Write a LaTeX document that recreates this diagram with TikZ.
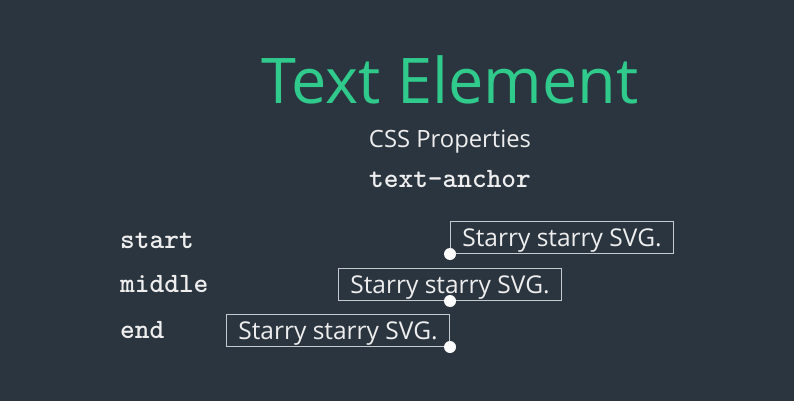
\documentclass[tikz,border=0pt]{standalone}
\usepackage{fontspec}
\setmainfont{Open Sans}
\definecolor{bgc}{HTML}{2B353F}
\definecolor{titlec}{HTML}{2FCA8C}
\definecolor{txtc}{HTML}{EEEEEE}
\definecolor{boxc}{HTML}{C5CACE}
\begin{document}
\begin{tikzpicture}[x=1pt,y=-1pt,
  codefnt/.style={font=\ttfamily\bfseries\fontsize{28}{32}\selectfont},
  codelbl/.style={anchor=base west,inner sep=0pt,text=txtc,codefnt},
  sbox/.style={draw=boxc,line width=1pt,text=txtc,inner sep=0pt,minimum width=223pt,
    text height=25pt,text depth=7pt,font=\fontsize{24.5}{28}\selectfont,anchor=south west},
  dotn/.style={circle,fill=white,draw=none,inner sep=0pt,minimum size=12pt}]
\fill[bgc] (0,0) rectangle (794,401);
\useasboundingbox (0,0) rectangle (794,401);
\node[anchor=base,inner sep=0pt,text=titlec,font=\fontsize{63}{70}\selectfont] (title) at (450,103) {Text Element};
\node[anchor=base,inner sep=0pt,text=txtc,font=\fontsize{23.8}{27}\selectfont] (css) at (450,147) {CSS Properties};
\node[anchor=base,inner sep=0pt,text=txtc,codefnt] (prop) at (450,187) {text-anchor};
\node[codelbl] (lstart) at (120,248) {start};
\node[codelbl] (lmiddle) at (120,292) {middle};
\node[codelbl] (lend) at (120,338) {end};
\node[sbox] (b1) at (450,254) {Starry starry SVG.};
\node[sbox,anchor=south] (b2) at (450,301) {Starry starry SVG.};
\node[sbox,anchor=south east] (b3) at (450,347) {Starry starry SVG.};
\node[dotn] (d1) at (b1.south west) {};
\node[dotn] (d2) at (b2.south) {};
\node[dotn] (d3) at (b3.south east) {};
\end{tikzpicture}
\end{document}
